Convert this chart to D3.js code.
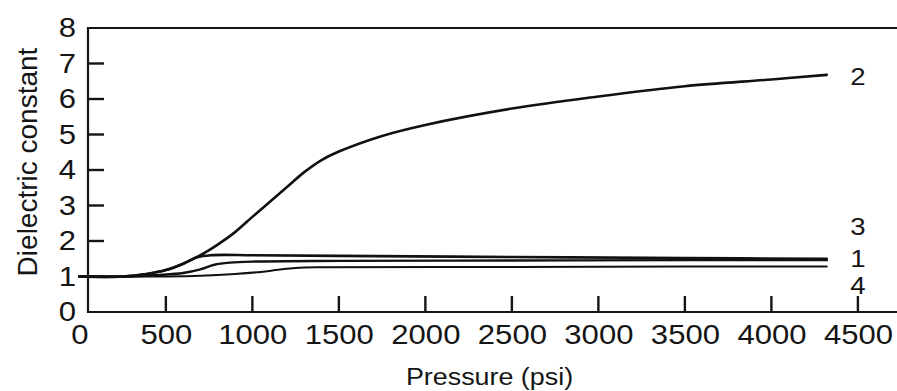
<!DOCTYPE html>
<html>
<head>
<meta charset="utf-8">
<script src="https://cdn.jsdelivr.net/npm/d3@7"></script>
<style>
  body { margin: 0; background: #fff; }
  text { font-family: "Liberation Sans", Arial, sans-serif; fill: #151515; }
</style>
</head>
<body>
<div id="chart"></div>
<script>
// dielectric constant vs pressure, four curves labelled 1-4 at the right end

const xTicks = [0, 500, 1000, 1500, 2000, 2500, 3000, 3500, 4000, 4500];
const yTicks = [0, 1, 2, 3, 4, 5, 6, 7, 8];

const pressure2 = [0, 250, 400, 500, 600, 700, 800, 900, 1000, 1100, 1200, 1300, 1400, 1500, 1750, 2000, 2500, 3000, 3500, 4000, 4320];
const curve2 = [1.0, 1.0, 1.08, 1.18, 1.36, 1.6, 1.9, 2.25, 2.68, 3.1, 3.52, 3.94, 4.28, 4.52, 4.96, 5.27, 5.73, 6.07, 6.36, 6.55, 6.68];

const pressure3 = [0, 250, 400, 500, 600, 680, 760, 1000, 1500, 2500, 3500, 4320];
const curve3 = [1.0, 1.0, 1.08, 1.18, 1.36, 1.54, 1.6, 1.6, 1.58, 1.55, 1.52, 1.5];

const pressure1 = [0, 300, 450, 600, 700, 780, 870, 1000, 1500, 2500, 3500, 4320];
const curve1 = [1.0, 1.0, 1.04, 1.1, 1.2, 1.33, 1.39, 1.42, 1.44, 1.45, 1.46, 1.46];

const pressure4 = [0, 500, 700, 900, 1050, 1150, 1250, 1400, 2500, 3500, 4320];
const curve4 = [1.0, 1.0, 1.02, 1.07, 1.13, 1.19, 1.24, 1.26, 1.27, 1.28, 1.28];

const seriesNames = ["2", "3", "1", "4"];
const labelValues = [6.65, 2.4, 1.52, 0.74];

const margin = { top: 28, right: 0, bottom: 79, left: 88 };
const width = 897 - margin.left - margin.right;
const height = 391 - margin.top - margin.bottom;

const svg = d3.select("#chart")
  .append("svg")
  .attr("width", 897)
  .attr("height", 391)
  .append("g")
  .attr("transform", `translate(${margin.left},${margin.top})`);

// frame starts a little right of zero, like the original figure
const x = d3.scaleLinear().domain([50, 4726]).range([0, width]);
const y = d3.scaleLinear().domain([0, 8]).range([height, 0]);

const stretch = "scale(1.15,1)";
const ink = "#151515";

// tick labels from the axes, tick marks drawn inward below
const xAxis = svg.append("g")
  .attr("transform", `translate(0,${height})`)
  .call(d3.axisBottom(x).tickValues(xTicks).tickFormat(d3.format("d")).tickSize(0).tickPadding(13));
xAxis.select(".domain").remove();
xAxis.selectAll(".tick line").remove();
xAxis.selectAll(".tick text").attr("font-size", 27).attr("transform", stretch)
  .style("font-family", "Liberation Sans, Arial, sans-serif").attr("fill", ink);

const yAxis = svg.append("g")
  .call(d3.axisLeft(y).tickValues(yTicks).tickFormat(d3.format("d")).tickSize(0).tickPadding(10.5));
yAxis.select(".domain").remove();
yAxis.selectAll(".tick line").remove();
yAxis.selectAll(".tick text").attr("font-size", 27).attr("transform", stretch)
  .style("font-family", "Liberation Sans, Arial, sans-serif").attr("fill", ink);

svg.selectAll(".xtick")
  .data(xTicks.filter(d => d > 0))
  .enter()
  .append("line")
  .attr("class", "xtick")
  .attr("x1", d => x(d))
  .attr("x2", d => x(d))
  .attr("y1", y(0))
  .attr("y2", y(0) - 16)
  .attr("stroke", ink)
  .attr("stroke-width", 2.4);

svg.selectAll(".ytick")
  .data(yTicks.filter(d => d > 0 && d < 8))
  .enter()
  .append("line")
  .attr("class", "ytick")
  .attr("x1", x(50))
  .attr("x2", x(50) + 16)
  .attr("y1", d => y(d))
  .attr("y2", d => y(d))
  .attr("stroke", ink)
  .attr("stroke-width", 2.4);

// frame: top, left, bottom
const frame = d3.path();
frame.moveTo(x(4726), y(8));
frame.lineTo(x(50), y(8));
frame.lineTo(x(50), y(0));
frame.lineTo(x(4726), y(0));
svg.append("path")
  .attr("d", frame.toString())
  .attr("fill", "none")
  .attr("stroke", ink)
  .attr("stroke-width", 2.2);

// curves
const series = [
  { p: pressure2, v: curve2, w: 2.6 },
  { p: pressure3, v: curve3, w: 2.6 },
  { p: pressure1, v: curve1, w: 2.4 },
  { p: pressure4, v: curve4, w: 2 }
];

const line = d3.line()
  .x(d => x(d[0]))
  .y(d => y(d[1]))
  .curve(d3.curveCatmullRom.alpha(0.5));

svg.selectAll(".curve")
  .data(series)
  .enter()
  .append("path")
  .attr("class", "curve")
  .attr("d", s => line(d3.zip(s.p, s.v)))
  .attr("fill", "none")
  .attr("stroke", "#111")
  .attr("stroke-width", s => s.w)
  .attr("stroke-linecap", "round");

// curve labels at the right end
svg.selectAll(".lbl")
  .data(seriesNames)
  .enter()
  .append("text")
  .attr("class", "lbl")
  .attr("transform", (d, i) => `translate(${x(4500)},${y(labelValues[i])}) ${stretch}`)
  .attr("text-anchor", "middle")
  .attr("dy", "0.36em")
  .attr("font-size", 24)
  .text(d => d);

// axis titles
svg.append("text")
  .attr("transform", `translate(${width / 2 - 3},${height + 73}) scale(1.12,1)`)
  .attr("text-anchor", "middle")
  .attr("font-size", 24)
  .text("Pressure (psi)");

svg.append("text")
  .attr("transform", `translate(-51,${height / 2 - 8}) rotate(-90)`)
  .attr("text-anchor", "middle")
  .attr("font-size", 28)
  .text("Dielectric constant");
</script>
</body>
</html>
